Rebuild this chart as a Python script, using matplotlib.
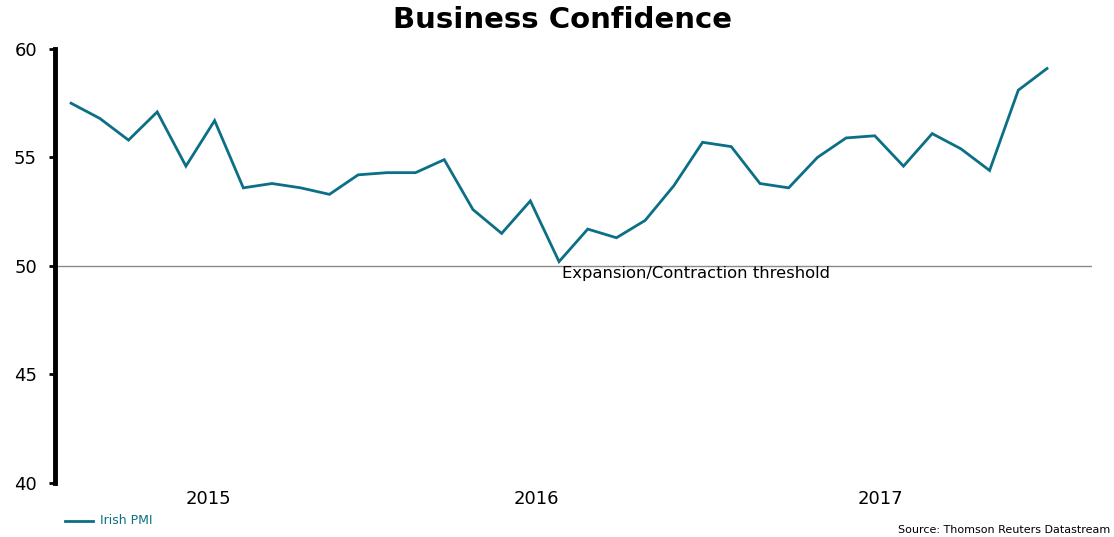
import matplotlib
matplotlib.use("Agg")
import matplotlib.pyplot as plt
from matplotlib.lines import Line2D

plt.rcParams['font.family'] = ['DejaVu Sans']

# Data (monthly, Irish PMI)
pmi = [57.5, 56.8, 55.8, 57.1, 54.6, 56.7, 53.6, 53.8, 53.6, 53.3,
       54.2, 54.3, 54.3, 54.9, 52.6, 51.5, 53.0, 50.2, 51.7, 51.3,
       52.1, 53.7, 55.7, 55.5, 53.8, 53.6, 55.0, 55.9, 56.0, 54.6,
       56.1, 55.4, 54.4, 58.1, 59.1]
year_labels = ["2015", "2016", "2017"]
year_label_pos = [4.8, 16.2, 28.2]
y_ticks = [40, 45, 50, 55, 60]
threshold = 50
series_name = "Irish PMI"
title = "Business Confidence"
threshold_label = "Expansion/Contraction threshold"
source = "Source: Thomson Reuters Datastream"

line_color = "#0b6f86"

fig = plt.figure(figsize=(11.14, 5.37), dpi=100)
ax = fig.add_axes([0.0494, 0.1006, 0.9309, 0.8082])

x = list(range(len(pmi)))
ax.plot(x, pmi, color=line_color, lw=2.0, solid_joinstyle='miter', zorder=3)
ax.axhline(threshold, color="#8a8a8a", lw=1.0, zorder=2)
ax.text(17.1, threshold - 0.02, threshold_label, ha='left', va='top',
        fontsize=11.8, color='black')

ax.set_xlim(-0.56, 35.57)
ax.set_ylim(40, 60)
ax.set_yticks(y_ticks)
ax.set_yticklabels([str(v) for v in y_ticks], fontsize=13)
ax.tick_params(axis='y', length=4, width=2, pad=9, direction='out')
ax.set_xticks(year_label_pos)
ax.set_xticklabels(year_labels, fontsize=13)
ax.tick_params(axis='x', length=0, pad=5)

for s in ['top', 'right', 'bottom']:
    ax.spines[s].set_visible(False)
ax.spines['left'].set_linewidth(3.5)
ax.spines['left'].set_color('black')

fig.text(0.505, 0.962, title, ha='center', va='center', fontsize=21,
         fontweight='bold')

# legend
fig.add_artist(Line2D([65 / 1114, 93 / 1114], [1 - 521 / 537, 1 - 521 / 537],
                      color=line_color, lw=2.0))
fig.text(100 / 1114, 1 - 521 / 537, series_name, ha='left', va='center',
         fontsize=9, color=line_color)
fig.text(1110 / 1114, 1 - 530 / 537, source, ha='right', va='center',
         fontsize=8, color='black')

fig.savefig("out.png", dpi=100)
